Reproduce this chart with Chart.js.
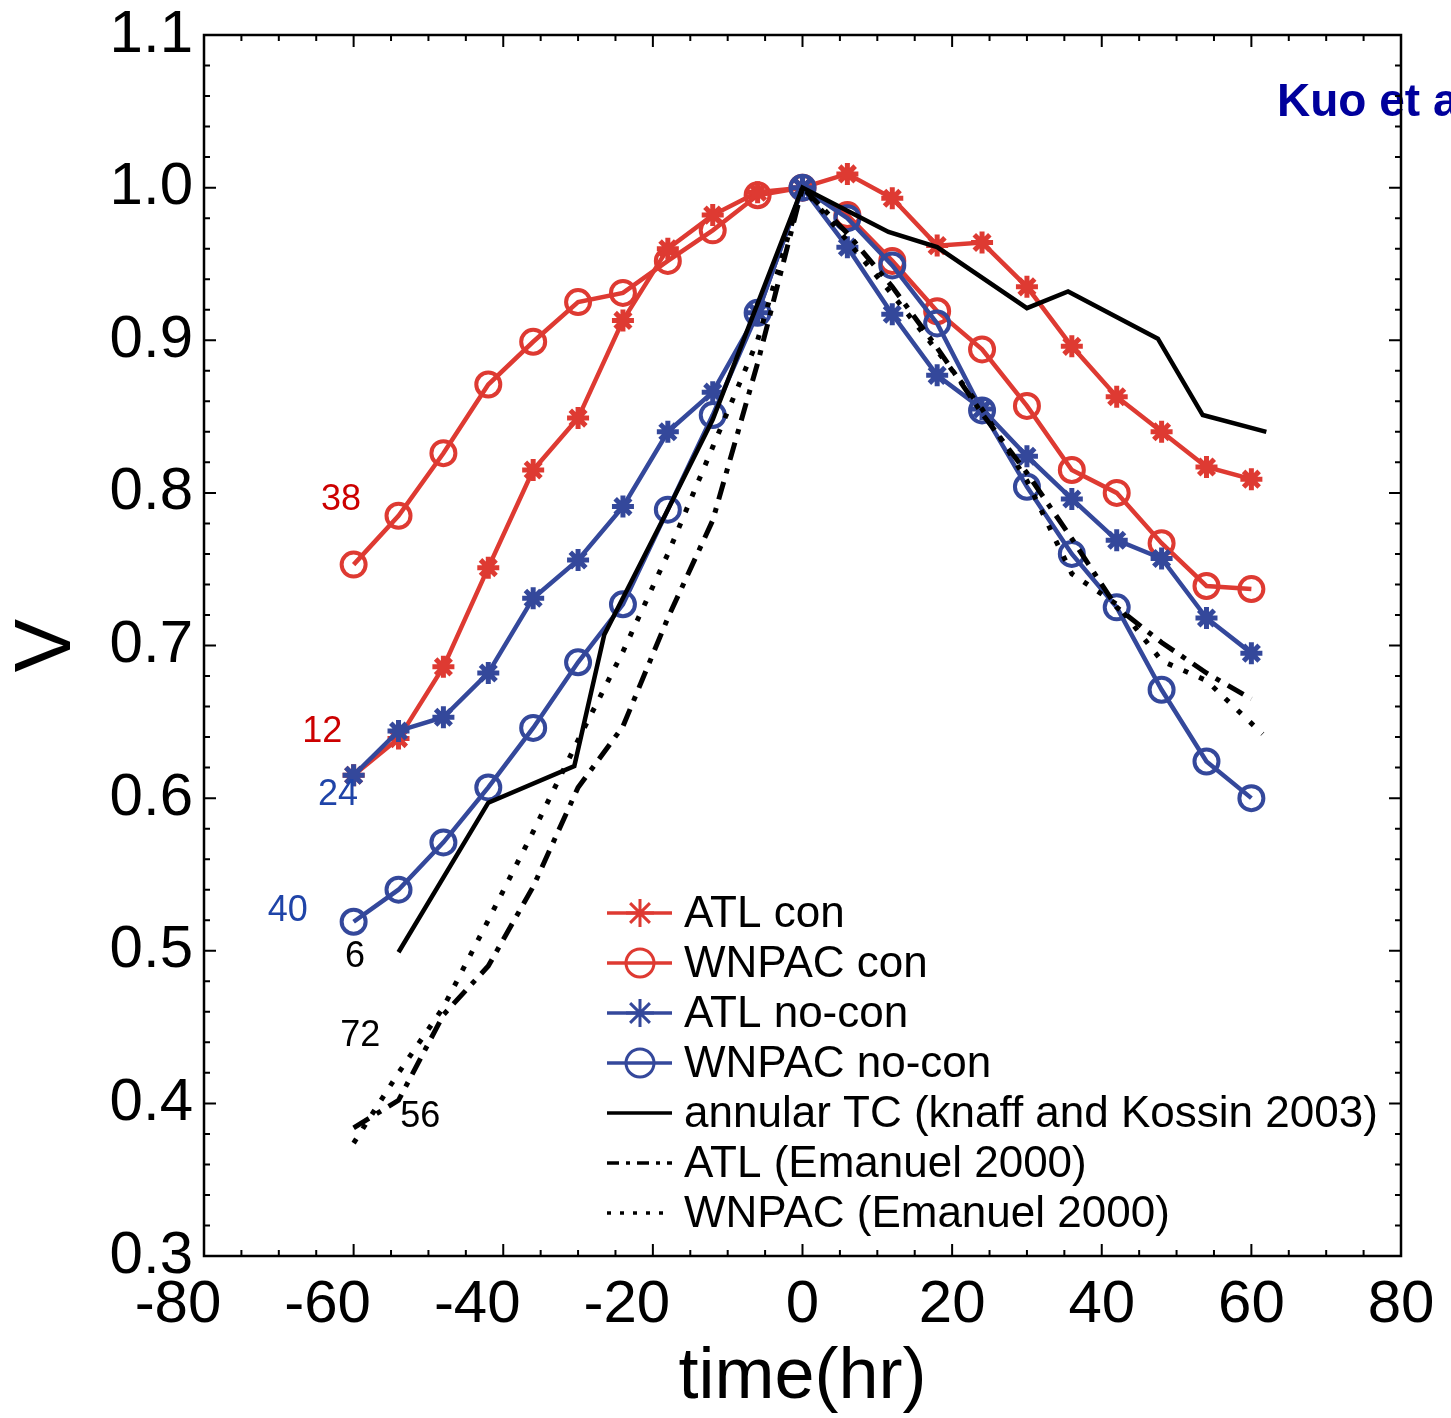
<!DOCTYPE html>
<html>
<head>
<meta charset="utf-8">
<script src="https://cdn.jsdelivr.net/npm/chart.js@4.4.1/dist/chart.umd.min.js"></script>
<style>
  html, body { margin: 0; padding: 0; background: #fff; overflow: hidden; }
  #wrap { width: 1451px; height: 1418px; }
</style>
</head>
<body>
<div id="wrap"><canvas id="vChart" width="1451" height="1418"></canvas></div>
<script>
// time relative to peak (hr)
const hours = [-60, -54, -48, -42, -36, -30, -24, -18, -12, -6, 0, 6, 12, 18, 24, 30, 36, 42, 48, 54, 60]

const atlCon = [0.615, 0.639, 0.686, 0.751, 0.815, 0.849, 0.913, 0.960, 0.982, 0.997, 1.0,
                1.009, 0.993, 0.962, 0.964, 0.935, 0.896, 0.863, 0.840, 0.817, 0.809]
const wnpacCon = [0.753, 0.785, 0.826, 0.871, 0.899, 0.925, 0.931, 0.952, 0.972, 0.995, 1.0,
                  0.982, 0.952, 0.919, 0.894, 0.857, 0.815, 0.800, 0.767, 0.739, 0.737]
const atlNoCon = [0.615, 0.644, 0.653, 0.682, 0.731, 0.756, 0.791, 0.840, 0.866, 0.918, 1.0,
                  0.961, 0.917, 0.877, 0.855, 0.824, 0.796, 0.769, 0.757, 0.718, 0.695]
const wnpacNoCon = [0.519, 0.540, 0.571, 0.607, 0.646, 0.689, 0.727, 0.789, 0.851, 0.918, 1.0,
                    0.980, 0.949, 0.911, 0.854, 0.804, 0.760, 0.725, 0.671, 0.624, 0.600]

const annularHours = [-54, -42, -30.5, -26.5, -18, -12, 0, 11.5, 18, 30, 35.5, 47.5, 53.5, 62]
const annularV = [0.499, 0.597, 0.621, 0.707, 0.789, 0.848, 1.0, 0.971, 0.961, 0.921, 0.932, 0.901, 0.851, 0.840]

const atlEmanuel = [0.384, 0.402, 0.458, 0.490, 0.542, 0.607, 0.647, 0.718, 0.782, 0.885, 1.0,
                    0.970, 0.935, 0.895, 0.852, 0.813, 0.770, 0.725, 0.702, 0.682, 0.665]
const wnpacEmanuelHours = [-60, -54, -48, -42, -36, -30, -24, -18, -12, -6, 0, 6, 12, 18, 24, 30, 36, 42, 48, 54, 61.5]
const wnpacEmanuel = [0.374, 0.420, 0.463, 0.520, 0.578, 0.638, 0.696, 0.760, 0.830, 0.900, 1.0,
                      0.965, 0.930, 0.893, 0.855, 0.808, 0.747, 0.727, 0.690, 0.677, 0.642]

const xTicks = [-80, -60, -40, -20, 0, 20, 40, 60, 80]

// sample-size labels next to the curves
const countLabels = ['38', '12', '24', '40', '6', '72', '56']
const countX = [-61.7, -64.2, -62.1, -68.8, -59.8, -59.1, -51.1]
const countY = [0.795, 0.643, 0.602, 0.526, 0.496, 0.444, 0.391]
const countColor = ['#cc0000', '#cc0000', '#1f44a8', '#1f44a8', '#000', '#000', '#000']

const legendNames = ['ATL con', 'WNPAC con', 'ATL no-con', 'WNPAC no-con',
  'annular TC (knaff and Kossin 2003)', 'ATL (Emanuel 2000)', 'WNPAC (Emanuel 2000)']

const RED = '#de3a32'
const BLUE = '#34489b'
const FONT = '"Liberation Sans", Arial, Helvetica, sans-serif'

const pts = (xs, ys) => xs.map((x, i) => ({x: x, y: ys[i]}))

const markerLine = (label, data, color, style, order) => ({
  label, data,
  borderColor: color,
  backgroundColor: 'rgba(0,0,0,0)',
  borderWidth: 4.5,
  pointStyle: style,
  pointRadius: style === 'circle' ? 12 : 11,
  pointBorderWidth: style === 'circle' ? 4 : 5,
  pointBorderColor: color,
  pointBackgroundColor: 'rgba(0,0,0,0)',
  order
})

const blackLine = (label, data, dash, width) => ({
  label, data,
  borderColor: '#000',
  borderWidth: width,
  borderDash: dash,
  borderCapStyle: 'butt',
  pointRadius: 0,
  order: 0
})

const datasets = [
  markerLine('ATL con', pts(hours, atlCon), RED, 'star', 3),
  markerLine('WNPAC con', pts(hours, wnpacCon), RED, 'circle', 3),
  markerLine('ATL no-con', pts(hours, atlNoCon), BLUE, 'star', 2),
  markerLine('WNPAC no-con', pts(hours, wnpacNoCon), BLUE, 'circle', 2),
  blackLine('annular TC', pts(annularHours, annularV), [], 4.5),
  blackLine('ATL Emanuel', pts(hours, atlEmanuel), [18, 9, 5, 9], 5),
  blackLine('WNPAC Emanuel', pts(wnpacEmanuelHours, wnpacEmanuel), [5, 12], 5)
]

// frame, inward ticks, x labels, titles, notes, legend
const decor = {
  id: 'decor',
  beforeDraw(chart) {
    const c = chart.ctx
    c.save()
    c.fillStyle = '#00009c'
    c.font = 'bold 46px ' + FONT
    c.textBaseline = 'alphabetic'
    c.fillText('Kuo et al.', 1277, 116)
    c.restore()
  },
  afterDatasetsDraw(chart) {
    const c = chart.ctx
    const xs = chart.scales.x, ys = chart.scales.y
    const a = chart.chartArea
    c.save()
    c.strokeStyle = '#000'
    c.lineWidth = 2.5
    c.strokeRect(a.left, a.top, a.right - a.left, a.bottom - a.top)
    c.lineWidth = 2
    c.beginPath()
    for (let v = -80; v <= 80; v += 5) {
      const px = xs.getPixelForValue(v)
      const len = v % 20 === 0 ? 12 : 6
      c.moveTo(px, a.bottom); c.lineTo(px, a.bottom - len)
      c.moveTo(px, a.top); c.lineTo(px, a.top + len)
    }
    for (let k = 15; k <= 55; k++) {
      const py = ys.getPixelForValue(k / 50)
      const len = k % 5 === 0 ? 12 : 6
      c.moveTo(a.left, py); c.lineTo(a.left + len, py)
      c.moveTo(a.right, py); c.lineTo(a.right - len, py)
    }
    c.stroke()

    // x tick labels (minus sign hangs to the left)
    c.fillStyle = '#000'
    c.font = '60px ' + FONT
    c.textAlign = 'center'
    c.textBaseline = 'middle'
    xTicks.forEach(v => {
      const px = xs.getPixelForValue(v) + (v < 0 ? -26 : 0)
      c.fillText(String(v), px, 1305)
    })

    // axis titles
    c.font = '72px ' + FONT
    c.fillText('time(hr)', xs.getPixelForValue(0), 1378)
    c.save()
    c.translate(48, ys.getPixelForValue(0.7))
    c.rotate(-Math.PI / 2)
    c.font = '80px ' + FONT
    c.fillText('V', 0, 0)
    c.restore()

    // sample counts
    c.font = '36px ' + FONT
    countLabels.forEach((t, i) => {
      c.fillStyle = countColor[i]
      c.fillText(t, xs.getPixelForValue(countX[i]), ys.getPixelForValue(countY[i]))
    })

    // legend
    const lx0 = 607, lx1 = 672, mx = 640, tx = 684
    c.textAlign = 'left'
    c.font = '44px ' + FONT
    legendNames.forEach((name, i) => {
      const y = 913 + i * 50
      const ds = datasets[i]
      c.strokeStyle = ds.borderColor
      c.lineWidth = 3.5
      c.setLineDash([])
      if (i === 5) c.setLineDash([12, 7, 4, 7])
      if (i === 6) c.setLineDash([4, 9])
      c.beginPath(); c.moveTo(lx0, y); c.lineTo(lx1, y); c.stroke()
      c.setLineDash([])
      if (ds.pointStyle === 'circle') {
        c.lineWidth = 3
        c.beginPath(); c.arc(mx, y, 14, 0, Math.PI * 2); c.stroke()
      } else if (i < 4) {
        c.lineWidth = 3
        c.beginPath()
        for (let k = 0; k < 4; k++) {
          const ang = k * Math.PI / 4
          c.moveTo(mx - 14 * Math.sin(ang), y - 14 * Math.cos(ang))
          c.lineTo(mx + 14 * Math.sin(ang), y + 14 * Math.cos(ang))
        }
        c.stroke()
      }
      c.fillStyle = '#000'
      c.textBaseline = 'middle'
      c.fillText(name, tx, y + 2)
    })
    c.restore()
  }
}

new Chart(document.getElementById('vChart'), {
  type: 'line',
  data: {datasets},
  options: {
    responsive: false,
    animation: false,
    layout: {padding: {top: 35, right: 50, left: 0, bottom: 0}},
    plugins: {legend: {display: false}, tooltip: {enabled: false}},
    elements: {line: {tension: 0}},
    scales: {
      x: {
        type: 'linear', min: -80, max: 80,
        grid: {display: false}, border: {display: false},
        ticks: {display: false, stepSize: 20},
        afterFit: s => { s.height = 162; s.paddingLeft = 0; s.paddingRight = 0 }
      },
      y: {
        type: 'linear', min: 0.3, max: 1.1,
        grid: {display: false, drawTicks: false}, border: {display: false},
        ticks: {
          stepSize: 0.1, padding: 11, color: '#000',
          font: {size: 60, family: FONT},
          callback: v => v.toFixed(1)
        },
        afterFit: s => { s.width = 204; s.paddingTop = 0; s.paddingBottom = 0 }
      }
    }
  },
  plugins: [decor]
})
</script>
</body>
</html>
